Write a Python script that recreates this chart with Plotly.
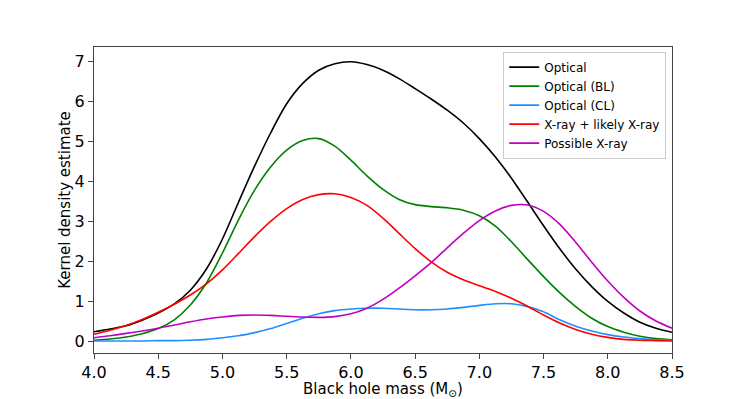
import plotly.graph_objects as go

mass = [4.0, 4.125, 4.25, 4.375, 4.5, 4.625, 4.75, 4.875, 5.0, 5.125,
        5.25, 5.375, 5.5, 5.625, 5.75, 5.875, 6.0, 6.125, 6.25, 6.375,
        6.5, 6.625, 6.75, 6.875, 7.0, 7.125, 7.25, 7.375, 7.5, 7.625,
        7.75, 7.875, 8.0, 8.125, 8.25, 8.375, 8.5]

optical = [0.23, 0.30, 0.38, 0.52, 0.70, 0.93, 1.27, 1.80, 2.55, 3.47,
           4.37, 5.20, 5.93, 6.44, 6.77, 6.93, 6.98, 6.91, 6.77, 6.56,
           6.31, 6.05, 5.77, 5.45, 5.06, 4.60, 4.07, 3.48, 2.88, 2.31,
           1.80, 1.36, 0.99, 0.70, 0.47, 0.32, 0.22]
optical_bl = [0.02, 0.05, 0.10, 0.18, 0.31, 0.53, 0.90, 1.45, 2.20, 3.03,
              3.77, 4.35, 4.77, 5.01, 5.06, 4.87, 4.52, 4.13, 3.79, 3.54,
              3.41, 3.36, 3.33, 3.27, 3.13, 2.87, 2.48, 2.04, 1.61, 1.21,
              0.86, 0.57, 0.36, 0.22, 0.12, 0.06, 0.03]
optical_cl = [0.0, 0.0, 0.0, 0.0, 0.01, 0.01, 0.02, 0.04, 0.08, 0.13,
              0.21, 0.31, 0.44, 0.57, 0.68, 0.76, 0.80, 0.82, 0.82, 0.80,
              0.78, 0.78, 0.80, 0.84, 0.89, 0.93, 0.93, 0.86, 0.73, 0.53,
              0.37, 0.25, 0.16, 0.10, 0.06, 0.03, 0.02]
xray = [0.17, 0.27, 0.39, 0.54, 0.72, 0.92, 1.15, 1.43, 1.78, 2.19,
        2.61, 2.99, 3.31, 3.54, 3.66, 3.68, 3.59, 3.39, 3.07, 2.69,
        2.31, 1.98, 1.72, 1.53, 1.38, 1.24, 1.07, 0.87, 0.65, 0.45,
        0.29, 0.17, 0.09, 0.04, 0.02, 0.01, 0.0]
possible_xray = [0.08, 0.13, 0.19, 0.25, 0.32, 0.40, 0.48, 0.55, 0.60, 0.64,
                 0.65, 0.64, 0.62, 0.60, 0.59, 0.61, 0.68, 0.82, 1.04, 1.32,
                 1.63, 1.96, 2.33, 2.69, 3.01, 3.25, 3.39, 3.40, 3.24, 2.92,
                 2.47, 1.97, 1.50, 1.09, 0.75, 0.50, 0.32]

series = [
    ("Optical", optical, "black"),
    ("Optical (BL)", optical_bl, "green"),
    ("Optical (CL)", optical_cl, "dodgerblue"),
    ("X-ray + likely X-ray", xray, "red"),
    ("Possible X-ray", possible_xray, "#c000c0"),
]

fig = go.Figure()
for name, vals, col in series:
    fig.add_trace(go.Scatter(
        x=mass, y=vals, name=name, mode="lines",
        line=dict(color=col, width=1.6, shape="spline", smoothing=0.8)
    ))

axis_style = dict(
    showline=True, linecolor="#444", linewidth=1, mirror=True,
    ticks="outside", ticklen=5, tickcolor="#444",
    showgrid=False, zeroline=False, automargin=False,
    tickfont=dict(size=16, color="black"),
)

# the page body adds an 8px margin, so the figure is 8px smaller
fig.update_layout(
    width=739, height=391,
    margin=dict(l=86, r=75, t=39, b=46),
    plot_bgcolor="white", paper_bgcolor="white",
    font=dict(family="DejaVu Sans", color="black"),
    xaxis=dict(range=[4.0, 8.5], dtick=0.5, tickformat=".1f",
               title=dict(text="Black hole mass (M<sub>⊙</sub>)",
                          font=dict(size=15), standoff=0),
               **axis_style),
    yaxis=dict(range=[-0.3, 7.35], dtick=1,
               title=dict(text="Kernel density estimate",
                          font=dict(size=15), standoff=0),
               **axis_style),
    legend=dict(x=0.99, y=0.985, xanchor="right", yanchor="top",
                bgcolor="white", bordercolor="#ccc", borderwidth=1,
                font=dict(size=12), tracegroupgap=0, itemwidth=30),
    showlegend=True,
)

fig.write_html("out.html")
